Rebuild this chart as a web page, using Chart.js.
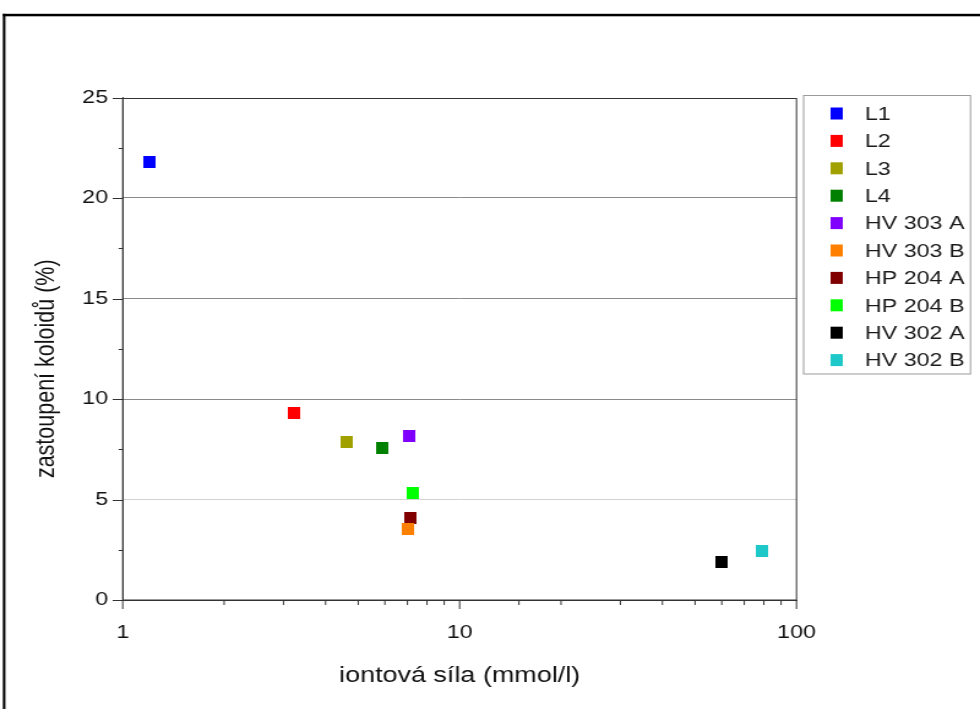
<!DOCTYPE html>
<html>
<head>
<meta charset="utf-8">
<script src="https://cdn.jsdelivr.net/npm/chart.js@4.4.1/dist/chart.umd.min.js"></script>
<style>
  html, body { margin: 0; padding: 0; background: #fff; overflow: hidden; }
  #wrap { position: absolute; left: 0; top: 0; width: 800px; height: 709px;
          transform: scaleX(1.225); transform-origin: 0 0; }
  canvas { display: block; }
</style>
</head>
<body>
<div id="wrap"><canvas id="c" width="800" height="709"></canvas></div>
<script>
// ---- data ----
const seriesLabels = ['L1', 'L2', 'L3', 'L4', 'HV 303 A', 'HV 303 B', 'HP 204 A', 'HP 204 B', 'HV 302 A', 'HV 302 B'];
const ionicStrength = [1.20, 3.23, 4.62, 5.89, 7.11, 7.04, 7.17, 7.29, 60.1, 79.2];   // mmol/l
const colloidShare  = [21.8, 9.32, 7.88, 7.56, 8.14, 3.55, 4.09, 5.31, 1.88, 2.45];   // %
const seriesColors  = ['#0000ff', '#ff0000', '#a0a000', '#008000', '#8000ff', '#ff8000', '#800000', '#00ff00', '#000000', '#1fc8c8'];
const xTickLabels = [1, 10, 100];
const yTickLabels = [0, 5, 10, 15, 20, 25];
const xTitle = 'iontová síla (mmol/l)';
const yTitle = 'zastoupení koloidů (%)';

const FONT = "'Liberation Sans', Arial, sans-serif";

function markerCanvas(color) {
  const c = document.createElement('canvas');
  c.width = 10; c.height = 12;
  const g = c.getContext('2d');
  g.fillStyle = color;
  g.fillRect(0, 0, 10, 12);
  return c;
}

const datasets = seriesLabels.map((lab, i) => ({
  label: lab,
  data: [{ x: ionicStrength[i], y: colloidShare[i] }],
  backgroundColor: seriesColors[i],
  borderColor: seriesColors[i],
  pointStyle: markerCanvas(seriesColors[i]),
  pointRadius: 6,
  showLine: false
}));

// outer frame
const framePlugin = {
  id: 'frame',
  beforeDraw(chart) {
    const ctx = chart.ctx;
    ctx.save();
    ctx.fillStyle = '#000';
    ctx.fillRect(2.3, 13.8, chart.width, 2.5);
    ctx.fillRect(2.3, 13.8, 2.1, chart.height);
    ctx.restore();
  }
};

// tick marks, plot box and the rotated y title
const ticksPlugin = {
  id: 'tickmarks',
  afterDraw(chart) {
    const ctx = chart.ctx;
    const a = chart.chartArea;
    const xs = chart.scales.x, ys = chart.scales.y;
    ctx.save();
    ctx.strokeStyle = '#333';
    ctx.lineWidth = 1;
    ctx.beginPath();
    ys.ticks.forEach(t => {
      const p = Math.round(ys.getPixelForValue(t.value)) + 0.5;
      const len = (t.value % 5 === 0) ? 8.2 : 3.4;
      ctx.moveTo(a.left - len, p); ctx.lineTo(a.left, p);
    });
    xs.ticks.forEach(t => {
      const p = xs.getPixelForValue(t.value);
      const major = xTickLabels.includes(t.value);
      const len = major ? 9 : 5;
      ctx.moveTo(p, a.bottom); ctx.lineTo(p, a.bottom + len);
    });
    ctx.stroke();
    ctx.strokeRect(a.left, Math.round(a.top) + 0.5, a.right - a.left, a.bottom - Math.round(a.top) - 0.5);
    // y-axis title
    ctx.translate(38.4, (a.top + a.bottom) / 2 + 20);
    ctx.rotate(-Math.PI / 2);
    ctx.font = '21.5px ' + FONT;
    ctx.fillStyle = '#111';
    ctx.textAlign = 'center';
    ctx.textBaseline = 'middle';
    ctx.fillText(yTitle, 0, 0);
    ctx.restore();
  }
};

// legend box
const legendPlugin = {
  id: 'boxLegend',
  afterDraw(chart) {
    const ctx = chart.ctx;
    ctx.save();
    ctx.strokeStyle = '#9a9a9a';
    ctx.lineWidth = 1;
    ctx.strokeRect(656, 95.5, 136.2, 278.5);
    ctx.font = '19px ' + FONT;
    ctx.textBaseline = 'middle';
    ctx.textAlign = 'left';
    chart.data.datasets.forEach((ds, i) => {
      const cy = 113.5 + i * 27.4;
      ctx.fillStyle = ds.backgroundColor;
      ctx.fillRect(678, cy - 6, 10, 12);
      ctx.fillStyle = '#1a1a1a';
      ctx.fillText(ds.label, 706, cy + 1);
    });
    ctx.restore();
  }
};

new Chart(document.getElementById('c'), {
  type: 'scatter',
  data: { datasets },
  plugins: [framePlugin, ticksPlugin, legendPlugin],
  options: {
    responsive: false,
    animation: false,
    devicePixelRatio: 1,
    layout: { padding: { top: 97.5, right: 149.8, left: 0, bottom: 0 } },
    plugins: { legend: { display: false }, tooltip: { enabled: false } },
    scales: {
      x: {
        type: 'logarithmic',
        min: 1, max: 100,
        afterFit(s) { s.height = 109; },
        grid: { display: true, drawOnChartArea: false, drawTicks: false },
        border: { display: true, color: '#333', width: 1 },
        ticks: {
          autoSkip: false, maxRotation: 0, padding: 21.5,
          color: '#111', font: { family: FONT, size: 19 },
          callback: (v) => xTickLabels.includes(v) ? String(v) : ''
        },
        title: { display: true, text: xTitle, color: '#111',
                 font: { family: FONT, size: 22 }, padding: { top: 0, bottom: 19.8 } }
      },
      y: {
        type: 'linear',
        min: 0, max: 25,
        afterFit(s) { s.width = 100.2; },
        grid: {
          drawTicks: false,
          color: (c) => {
            const v = c.tick && c.tick.value;
            if (v === 5) return '#d2d2d2';
            if (v === 10 || v === 15 || v === 20) return '#8a8a8a';
            return 'rgba(0,0,0,0)';
          }
        },
        border: { display: true, color: '#333', width: 1 },
        ticks: {
          stepSize: 2.5, autoSkip: false, padding: 12,
          color: '#111', font: { family: FONT, size: 19 },
          callback: (v) => yTickLabels.includes(v) ? String(v) : ''
        },
        title: { display: false }
      }
    }
  }
});
</script>
</body>
</html>
